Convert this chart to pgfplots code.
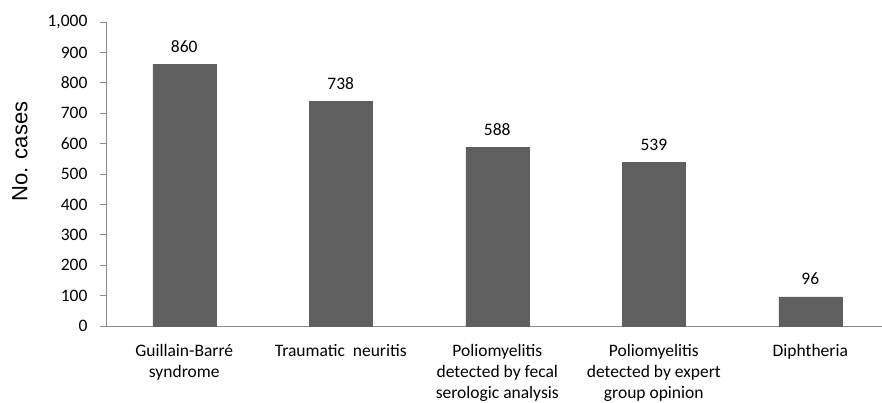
\documentclass[border=0pt]{standalone}
\usepackage{pgfplots}
\pgfplotsset{compat=1.18}
\usepackage{fontspec}
\setmainfont{Carlito}
\newfontfamily\arialfont{Liberation Sans}
\definecolor{barfill}{HTML}{5F5F5F}
\definecolor{axgray}{HTML}{8C8C8C}
\begin{document}
\begin{tikzpicture}[x=1pt,y=1pt]
\path[use as bounding box] (-106,-77) rectangle (776,326);
\begin{axis}[
    at={(0,0)}, anchor=south west,
    scale only axis, width=776pt, height=304pt,
    xmin=-0.5, xmax=4.458, ymin=0, ymax=1000,
    axis x line*=bottom, axis y line*=left,
    axis line style={axgray, line width=0.8pt},
    ytick={0,100,...,1000},
    xtick={0,1,2,3,4},
    x tick style={draw=none},
    y tick style={axgray, line width=0.8pt},
    tick align=outside, major tick length=6pt,
    extra x ticks={-0.5,0.5,1.5,2.5,3.5},
    extra x tick labels={},
    extra x tick style={tick style={draw=axgray, line width=0.8pt}, major tick length=6pt},
    xticklabels={{Guillain-Barré\\syndrome},{Traumatic\ \ neuritis},
        {Poliomyelitis\\detected by fecal\\serologic analysis},
        {Poliomyelitis\\detected by expert\\group opinion},{Diphtheria}},
    xticklabel style={align=center, font=\fontsize{17.5}{21}\selectfont, anchor=north, yshift=-9pt},
    yticklabel style={font=\fontsize{17.5}{20}\selectfont, anchor=east, xshift=-9pt},
    /pgf/number format/assume math mode=true,
    /pgf/number format/1000 sep={,},
    scaled y ticks=false,
    ylabel={\arialfont No. cases},
    every axis y label/.style={at={(axis description cs:-0.1108,0.574)}, rotate=90, anchor=center,
        font=\fontsize{22}{24}\selectfont},
    ybar, bar width=63pt,
    nodes near coords,
    nodes near coords style={font=\fontsize{17.5}{20}\selectfont, anchor=base, inner sep=0pt, yshift=12pt},
    clip=false,
]
\addplot[fill=barfill, draw=barfill] coordinates {(0,860) (1,738) (2,588) (3,539) (4,96)};
\end{axis}
\end{tikzpicture}
\end{document}
